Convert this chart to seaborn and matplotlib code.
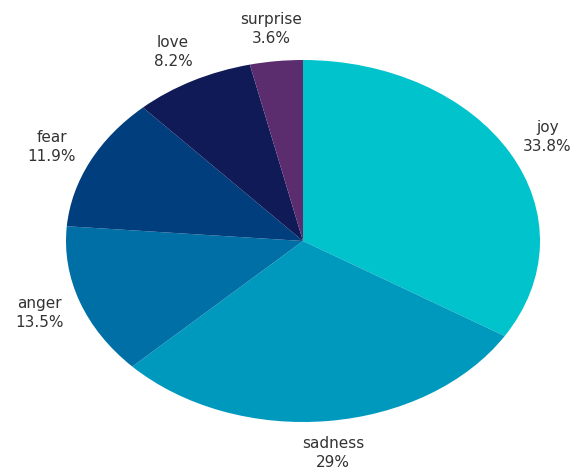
import matplotlib
matplotlib.use("Agg")
import matplotlib.pyplot as plt
import seaborn as sns

sns.set_theme(style="white")
plt.rcParams['font.family'] = ['DejaVu Sans']

emotions = ["joy", "sadness", "anger", "fear", "love", "surprise"]
shares = [33.8, 29.0, 13.5, 11.9, 8.2, 3.6]
colors = ["#00C3CC", "#0099BE", "#006FA6", "#003E7E", "#101A57", "#5B2C6E"]

labels = [f"{e}\n{v:g}%" for e, v in zip(emotions, shares)]

fig = plt.figure(figsize=(5.78, 4.71), dpi=100)
ax = fig.add_axes([66 / 578, (471 - 422) / 471, 474 / 578, 362 / 471])
wedges, texts = ax.pie(shares, labels=labels, colors=colors, startangle=90,
                       counterclock=False, labeldistance=1.18,
                       wedgeprops=dict(linewidth=0),
                       textprops=dict(fontsize=11, color="#333333",
                                      linespacing=1.35, ha="center", va="center"))
for t in texts:
    t.set_ha("center")
    t.set_clip_on(False)
ax.set_aspect("auto")
ax.set_xlim(-1, 1)
ax.set_ylim(-1, 1)
ax.axis("off")
fig.savefig("out.png", dpi=100)
